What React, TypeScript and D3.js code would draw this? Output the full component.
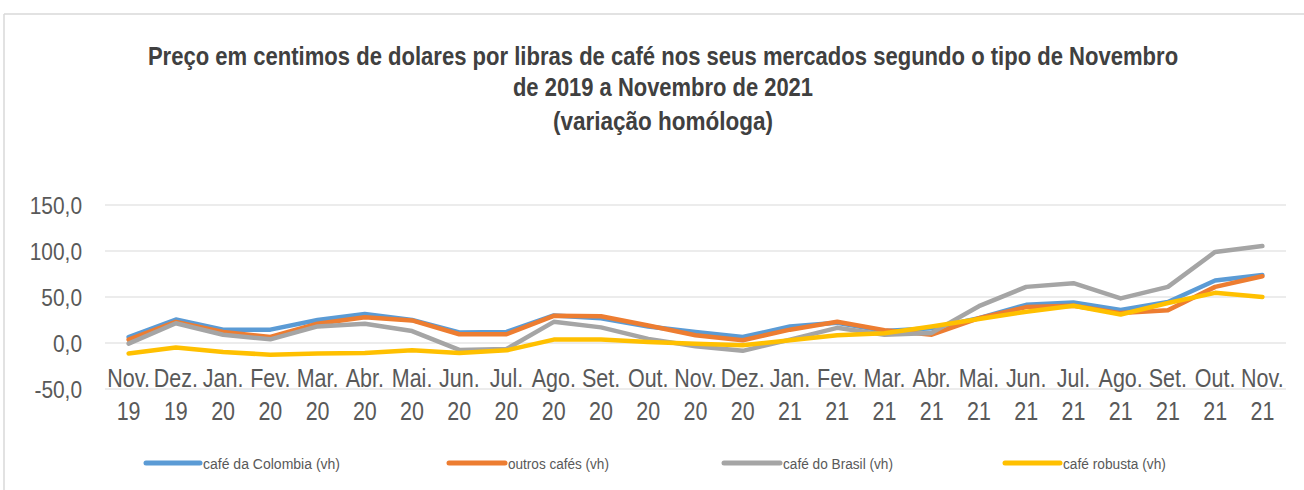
import React, { useLayoutEffect, useRef, useState } from "react";
import * as d3 from "d3";

const months = ["Nov.", "Dez.", "Jan.", "Fev.", "Mar.", "Abr.", "Mai.", "Jun.", "Jul.", "Ago.", "Set.", "Out.", "Nov.", "Dez.", "Jan.", "Fev.", "Mar.", "Abr.", "Mai.", "Jun.", "Jul.", "Ago.", "Set.", "Out.", "Nov."];
const years = ["19", "19", "20", "20", "20", "20", "20", "20", "20", "20", "20", "20", "20", "20", "21", "21", "21", "21", "21", "21", "21", "21", "21", "21", "21"];

const colombia = [6.5, 25.5, 14.5, 14.5, 25, 31.5, 25, 11.5, 12, 30, 27, 18, 12, 6.5, 18, 22, 13, 16, 27, 41.5, 44, 36, 44.5, 68, 74];
const outros = [3.7, 23, 12, 6.5, 21, 28, 24.5, 9.5, 9.5, 29.5, 29, 19, 8.5, 3, 14.5, 23, 14, 9, 27, 39, 40.5, 32.5, 35.5, 61, 72.5];
const brasil = [-0.7, 21.5, 9, 4, 18, 21, 13, -7.5, -6.5, 23, 17, 4.5, -3.5, -8.5, 3.7, 16.5, 9, 11, 40, 61, 65, 48.5, 61, 99, 105.5];
const robusta = [-11.5, -5, -9.8, -12.7, -11.5, -11, -8, -11, -8, 3.7, 3.7, 1, -0.7, -2.5, 3, 8.5, 10.5, 18, 26, 34, 40.5, 31, 43.5, 54.5, 50];

const yTicks = [-50, 0, 50, 100, 150];
const seriesNames = ["café da Colombia (vh)", "outros cafés (vh)", "café do Brasil (vh)", "café robusta (vh)"];

const titleLines = [
  "Preço em centimos de dolares por libras de café nos seus mercados segundo o tipo de Novembro",
  "de 2019 a Novembro de 2021",
  "(variação homóloga)",
];

const series = [
  { name: seriesNames[0], values: colombia, color: "#5B9BD5" },
  { name: seriesNames[1], values: outros, color: "#ED7D31" },
  { name: seriesNames[2], values: brasil, color: "#A5A5A5" },
  { name: seriesNames[3], values: robusta, color: "#FFC000" },
];

// Text that is squeezed horizontally to a target width, measured after mount.
function FitText(props: { x: number; y: number; width: number; anchor: "start" | "middle"; fontSize: number; bold?: boolean; fill: string; children: string }) {
  const ref = useRef<SVGTextElement>(null);
  const [sx, setSx] = useState(0.85);
  useLayoutEffect(() => {
    if (ref.current) {
      const w = ref.current.getComputedTextLength();
      if (w > 0) setSx(props.width / w);
    }
  }, [props.width, props.children]);
  return (
    <text ref={ref} transform={`translate(${props.x},${props.y}) scale(${sx},1)`} textAnchor={props.anchor}
      fontSize={props.fontSize} fontWeight={props.bold ? "bold" : "normal"} fill={props.fill}>{props.children}</text>
  );
}

export default function App() {
  const W = 1304, H = 490;
  const plotLeft = 105, plotRight = 1286;
  const x = d3.scaleBand<number>().domain(d3.range(months.length)).range([plotLeft, plotRight]);
  const y = d3.scaleLinear().domain([-50, 150]).range([389, 205]);
  const cx = (i: number) => (x(i) as number) + x.bandwidth() / 2;
  const line = d3.line<number>().x((_, i) => cx(i)).y((v) => y(v)).curve(d3.curveLinear);
  const fmt = (v: number) => d3.format(".1f")(v).replace(".", ",").replace("−", "-");
  const font = "'Liberation Sans', Arial, sans-serif";
  const textColor = "#595959";

  const titleBaselines = [65, 96, 130];
  const titleWidths = [1030, 300, 220];
  const titleCenter = 663;

  const legendY = 463;
  const legendItems = [
    { x0: 146, x1: 200, tw: 137 },
    { x0: 449, x1: 505, tw: 101 },
    { x0: 724, x1: 780, tw: 110 },
    { x0: 1005, x1: 1060, tw: 103 },
  ];

  return (
    <svg width={W} height={H} style={{ position: "absolute", left: 0, top: 0, background: "#fff" }} fontFamily={font}>
      <rect x={0} y={0} width={W} height={H} fill="#fff" />
      {/* frame */}
      <line x1={4} x2={W} y1={14} y2={14} stroke="#D9D9D9" strokeWidth={1.5} />
      <line x1={4} x2={4} y1={14} y2={H} stroke="#D9D9D9" strokeWidth={1.5} />

      {/* title */}
      {titleLines.map((t, i) => (
        <FitText key={i} x={titleCenter} y={titleBaselines[i]} width={titleWidths[i]} anchor="middle" fontSize={25} bold fill="#404040">{t}</FitText>
      ))}

      {/* gridlines */}
      {yTicks.map((t) => (
        <line key={t} x1={plotLeft} x2={plotRight} y1={y(t)} y2={y(t)} stroke="#D9D9D9" strokeWidth={1} />
      ))}

      {/* y labels */}
      {yTicks.map((t) => (
        <text key={t} transform={`translate(82,${y(t) + 8.5}) scale(0.87,1)`} textAnchor="end" fontSize={24} fill={textColor}>{fmt(t)}</text>
      ))}

      {/* x labels */}
      {months.map((m, i) => (
        <g key={i}>
          <text transform={`translate(${cx(i)},386.5) scale(0.86,1)`} textAnchor="middle" fontSize={25} fill={textColor}>{m}</text>
          <text transform={`translate(${cx(i)},420) scale(0.86,1)`} textAnchor="middle" fontSize={25} fill={textColor}>{years[i]}</text>
        </g>
      ))}

      {/* lines */}
      {series.map((s) => (
        <path key={s.name} d={line(s.values) as string} fill="none" stroke={s.color} strokeWidth={4.5} strokeLinejoin="round" strokeLinecap="round" />
      ))}

      {/* legend */}
      {series.map((s, i) => (
        <g key={s.name}>
          <line x1={legendItems[i].x0} x2={legendItems[i].x1} y1={legendY} y2={legendY} stroke={s.color} strokeWidth={5} strokeLinecap="round" />
          <FitText x={legendItems[i].x1 + 3} y={legendY + 5.5} width={legendItems[i].tw} anchor="start" fontSize={15.5} fill={textColor}>{s.name}</FitText>
        </g>
      ))}
    </svg>
  );
}
